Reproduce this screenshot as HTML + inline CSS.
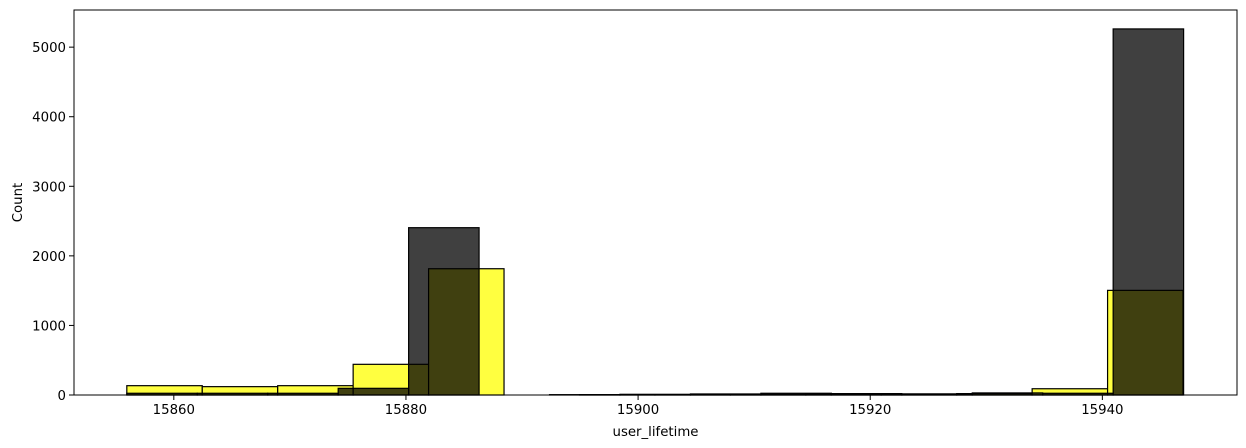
<!DOCTYPE html>
<html><head><meta charset="utf-8"><style>
body{margin:0;background:#fff;}
svg{display:block;font-family:"DejaVu Sans","Liberation Sans",sans-serif;}
</style></head><body>
<svg id="chart" width="1246" height="448"></svg>
<script>
const yellowStart = 15855.95;
const yellowWidth = 6.5;
const yellowCounts = [134, 120, 134, 441, 1815, 0, 5, 5, 10, 12, 15, 20, 90, 1504];
const blackStart = 15855.95;
const blackWidth = 6.07;
const blackCounts = [25, 25, 25, 96, 2405, 0, 5, 10, 15, 25, 20, 15, 30, 25, 5262];
const xTicks = [15860, 15880, 15900, 15920, 15940];
const yTicks = [0, 1000, 2000, 3000, 4000, 5000];

const L=74, R=1237, T=10, B=395;
const X0=15851.4, X1=15951.6, Y1=5534;
const sx = v => L + (v - X0) / (X1 - X0) * (R - L);
const sy = v => B - v / Y1 * (B - T);
const NS="http://www.w3.org/2000/svg";
const svg=document.getElementById('chart');
function mk(tag, attrs, parent){const e=document.createElementNS(NS,tag);for(const k in attrs)e.setAttribute(k,attrs[k]);(parent||svg).appendChild(e);return e;}

const gy=mk('g',{});


yellowCounts.forEach((c,i)=>{
  const x0=sx(yellowStart+i*yellowWidth), x1=sx(yellowStart+(i+1)*yellowWidth);
  const r=mk('rect',{x:x0,y:sy(c),width:x1-x0,height:B-sy(c),fill:'#ffff40',stroke:'#000','stroke-width':1.2},gy);
  
  
});
const gb=mk('g',{});


blackCounts.forEach((c,i)=>{
  const x0=sx(blackStart+i*blackWidth), x1=sx(blackStart+(i+1)*blackWidth);
  const r=mk('rect',{x:x0,y:sy(c),width:x1-x0,height:B-sy(c),fill:'#000','fill-opacity':0.75,stroke:'#000','stroke-width':1.2},gb);
  
  
});

const frame=mk('rect',{x:L,y:T,width:R-L,height:B-T,fill:'none',stroke:'#000','stroke-width':1});



xTicks.forEach(t=>{
  const x=sx(t);
  mk('line',{x1:x,x2:x,y1:B,y2:B+5,stroke:'#000','stroke-width':1});
  const tx=mk('text',{x:x,y:B+19,'text-anchor':'middle','font-size':13.3,fill:'#000'});
  tx.textContent=t;
  
  
});
yTicks.forEach(t=>{
  const y=sy(t);
  mk('line',{x1:L-5,x2:L,y1:y,y2:y,stroke:'#000','stroke-width':1});
  const tx=mk('text',{x:L-8,y:y+5,'text-anchor':'end','font-size':13.3,fill:'#000'});
  tx.textContent=t;
  
  
});
const xl=mk('text',{x:(L+R)/2,y:436,'text-anchor':'middle','font-size':13.3,fill:'#000'});
xl.textContent='user_lifetime';


const yl=mk('text',{x:0,y:0,'text-anchor':'middle','font-size':13.3,fill:'#000',transform:'translate(22,'+((T+B)/2)+') rotate(-90)'});
yl.textContent='Count';


</script>
</body></html>
